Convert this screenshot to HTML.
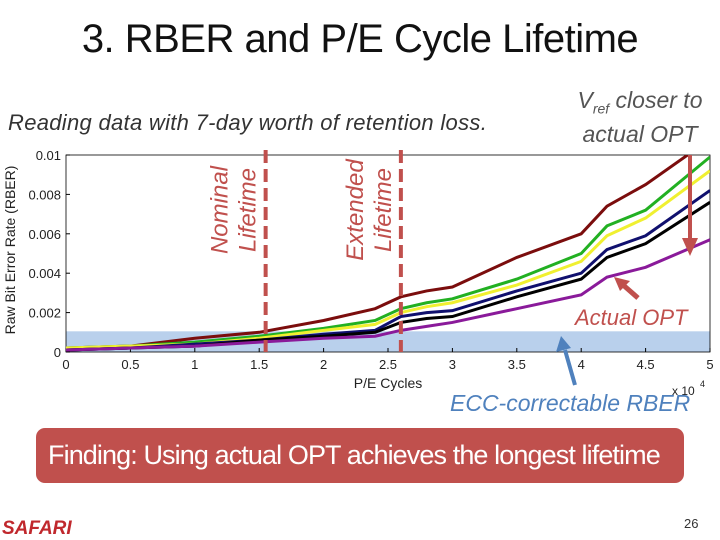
<!DOCTYPE html>
<html><head><meta charset="utf-8"><style>
body{margin:0;width:720px;height:540px;background:#fff;overflow:hidden;position:relative;font-family:"Liberation Sans",sans-serif}
.abs{position:absolute;white-space:nowrap}
</style></head><body>
<div class="abs" style="left:0;width:720px;text-align:center;top:17px;font-size:40px;color:#111;letter-spacing:-0.5px">3. RBER and P/E Cycle Lifetime</div>
<div class="abs" style="left:8px;top:110px;font-size:22px;font-style:italic;color:#333;letter-spacing:0.3px">Reading data with 7-day worth of retention loss.</div>
<div class="abs" style="left:560px;top:86px;width:160px;text-align:center;font-size:23px;font-style:italic;color:#555;line-height:28px">V<sub style="font-size:14px;line-height:0">ref</sub> closer to</div>
<div class="abs" style="left:560px;top:120px;width:160px;text-align:center;font-size:23px;font-style:italic;color:#555;line-height:28px">actual OPT</div>
<svg id="chart" width="720" height="540" style="position:absolute;left:0;top:0"></svg>
<div class="abs" style="left:450px;top:390px;font-size:23px;font-style:italic;color:#4f81bd">ECC-correctable RBER</div>
<div class="abs" style="left:36px;top:428px;width:648px;height:55px;background:#c0504d;border-radius:9px;color:#fff;font-size:27px;line-height:55px;padding-left:12px;box-sizing:border-box;letter-spacing:-0.9px">Finding: Using actual OPT achieves the longest lifetime</div>
<div class="abs" style="left:2px;top:518px;font-size:19px;font-weight:bold;font-style:italic;color:#c0282d">SAFARI</div>
<div class="abs" style="left:684px;top:516px;font-size:13px;color:#333">26</div>
<script>
const xTicks=[0,0.5,1,1.5,2,2.5,3,3.5,4,4.5,5];
const yTicks=[0,0.002,0.004,0.006,0.008,0.01];
const yTickLabels=["0","0.002","0.004","0.006","0.008","0.01"];
const xs=[0,0.5,1,1.5,2,2.4,2.6,2.8,3,3.5,4,4.2,4.5,5];
const sDarkRed=[0.0002,0.0003,0.0007,0.001,0.0016,0.0022,0.0028,0.0031,0.0033,0.0048,0.006,0.0074,0.0085,0.0108];
const sGreen=[0.0002,0.0003,0.0005,0.0008,0.0012,0.0016,0.0022,0.0025,0.0027,0.0037,0.005,0.0064,0.0072,0.0099];
const sYellow=[0.0002,0.0003,0.0004,0.0007,0.0011,0.0014,0.002,0.0023,0.0025,0.0034,0.0046,0.0059,0.0068,0.0092];
const sNavy=[0.0001,0.0002,0.0004,0.0006,0.0009,0.0011,0.0018,0.002,0.0021,0.0031,0.004,0.0052,0.0059,0.0082];
const sBlack=[0.0001,0.0002,0.0003,0.0006,0.0008,0.001,0.0015,0.0017,0.0018,0.0028,0.0037,0.0048,0.0055,0.0076];
const sPurple=[0.0001,0.0002,0.0003,0.0005,0.0007,0.0008,0.0011,0.0013,0.0015,0.0022,0.0029,0.0038,0.0043,0.0057];
const eccLimit=0.00105;
const nominalX=1.55, extendedX=2.6;
const NS="http://www.w3.org/2000/svg",svg=document.getElementById('chart');
const X0=66,X1=710,Y0=352,Y1=155;
const sx=v=>X0+(v/5)*(X1-X0), sy=v=>Y0-(v/0.01)*(Y0-Y1);
function mk(t,a,p){const e=document.createElementNS(NS,t);for(const k in a)e.setAttribute(k,a[k]);(p||svg).appendChild(e);return e;}
const clip=mk('clipPath',{id:'pc'});mk('rect',{x:X0,y:Y1,width:X1-X0,height:Y0-Y1},clip);
const band=mk('rect',{x:X0,y:sy(eccLimit),width:X1-X0,height:Y0-sy(eccLimit),fill:'#b9d0ec'});


const frame=mk('rect',{x:X0,y:Y1,width:X1-X0,height:Y0-Y1,fill:'none',stroke:'#000','stroke-width':0.8});


xTicks.forEach(v=>{const t=mk('text',{x:sx(v),y:Y0+17,'text-anchor':'middle','font-size':13,fill:'#222'});t.textContent=String(v);


mk('line',{x1:sx(v),x2:sx(v),y1:Y0,y2:Y0-4,stroke:'#000'});});
yTicks.forEach((v,i)=>{const t=mk('text',{x:X0-5,y:sy(v)+5,'text-anchor':'end','font-size':13,fill:'#222'});t.textContent=yTickLabels[i];


mk('line',{x1:X0,x2:X0+4,y1:sy(v),y2:sy(v),stroke:'#000'});});
const xt=mk('text',{x:388,y:388,'text-anchor':'middle','font-size':14,fill:'#222'});xt.textContent='P/E Cycles';


const yt=mk('text',{x:15,y:250,'text-anchor':'middle','font-size':14,fill:'#222',transform:'rotate(-90 15 250)'});yt.textContent='Raw Bit Error Rate (RBER)';


const ex=mk('text',{x:672,y:395,'font-size':12,fill:'#222'});ex.textContent='x 10';


const ex2=mk('text',{x:700,y:387,'font-size':9,fill:'#222'});ex2.textContent='4';
const series=[[sDarkRed,'#7b0d0d','series-darkred'],[sGreen,'#22b022','series-green'],[sYellow,'#f0f030','series-yellow'],[sNavy,'#10106e','series-navy'],[sBlack,'#000000','series-black'],[sPurple,'#8a1a9a','series-purple-actual-opt']];
series.forEach(([d,c,n])=>{const p=mk('polyline',{points:xs.map((x,i)=>sx(x)+','+sy(d[i])).join(' '),fill:'none',stroke:c,'stroke-width':3,'clip-path':'url(#pc)'});

});
[[nominalX,'nominal-lifetime-line','Nominal','Lifetime'],[extendedX,'extended-lifetime-line','Extended','Lifetime']].forEach(([v,n,a,b])=>{
const l=mk('line',{x1:sx(v),x2:sx(v),y1:150,y2:Y0,stroke:'#c0504d','stroke-width':4,'stroke-dasharray':'13,6'});


const cx=sx(v);
[[a,cx-38],[b,cx-10]].forEach(([s,xx])=>{const t=mk('text',{x:xx,y:210,'text-anchor':'middle','font-size':24,'font-style':'italic',fill:'#c0504d',transform:`rotate(-90 ${xx} 210)`});t.textContent=s;

});});
const a1=mk('line',{x1:690,y1:155,x2:690,y2:240,stroke:'#c0504d','stroke-width':4});
mk('polygon',{points:'682,238 698,238 690,256',fill:'#c0504d'});
const a2=mk('line',{x1:638,y1:298,x2:622,y2:284,stroke:'#c0504d','stroke-width':5});
mk('polygon',{points:'614,277 630,281 620,291',fill:'#c0504d'});
const ot=mk('text',{x:575,y:325,'font-size':22,'font-style':'italic',fill:'#c0504d'});ot.textContent='Actual OPT';


const a3=mk('line',{x1:575,y1:385,x2:565,y2:350,stroke:'#4f81bd','stroke-width':4});
mk('polygon',{points:'556,352 571,348 561,336',fill:'#4f81bd'});
</script>
</body></html>
